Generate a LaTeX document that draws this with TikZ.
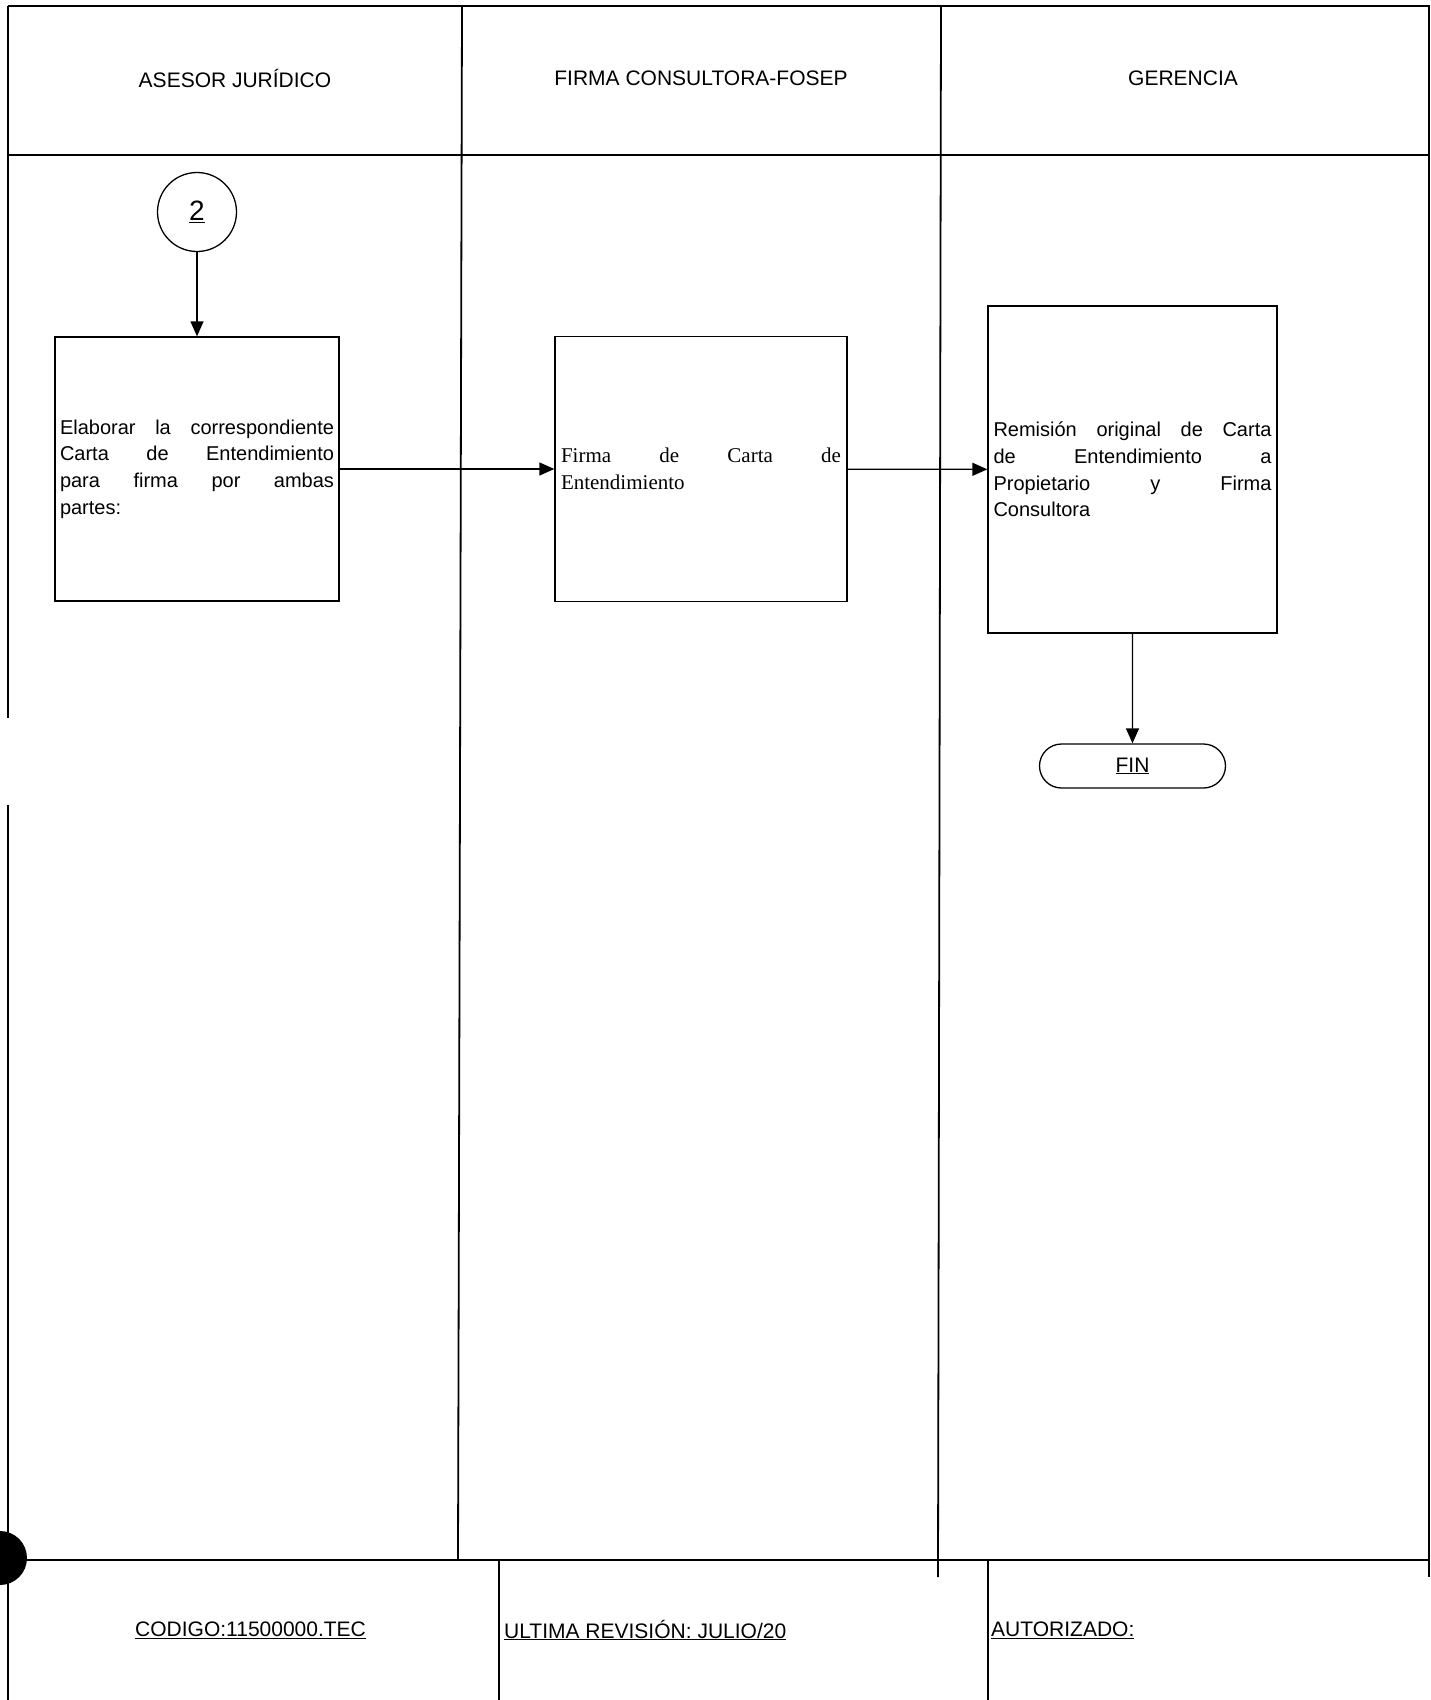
\documentclass[tikz,border=0pt]{standalone}
\usepackage{fontspec}
\setmainfont{Liberation Sans}
\newfontfamily\serifa{Liberation Serif}
\usetikzlibrary{arrows.meta,shapes.misc}
\begin{document}
\begin{tikzpicture}[x=1pt, y=-1pt,
  marco/.style={line width=1.8pt, black},
  caja/.style={rectangle, draw=black, line width=1.3pt, align=justify, font=\fontsize{20}{26.7}\selectfont},
  titulo/.style={font=\fontsize{21}{25}\selectfont},
  pie/.style={font=\fontsize{21}{25}\selectfont, anchor=west, inner sep=0pt},
  flecha/.style={line width=1.3pt, -{Triangle[length=15pt, width=13pt]}}]
  \useasboundingbox (0,0) rectangle (1431,1700);
  % marco y carriles
  \draw[marco] (8,6) -- (1430,6);
  \draw[marco] (8,155) -- (1430,155);
  \draw[marco] (8,1560) -- (1430,1560);
  \draw[marco] (8,6) -- (8,718);
  \draw[marco] (8,805) -- (8,1700);
  \draw[marco] (1429,6) -- (1429,1577);
  \draw[marco] (462,6) -- (458,1560);
  \draw[marco] (941,6) -- (938,1577);
  \draw[marco] (499,1560) -- (499,1700);
  \draw[marco] (988,1560) -- (988,1700);
  % perforacion del papel
  \fill (0,1558) circle (27pt);
  % cabecera
  \node[titulo] (h1) at (235,78) {ASESOR JURÍDICO};
  \node[titulo] (h2) at (701,78) {FIRMA CONSULTORA-FOSEP};
  \node[titulo] (h3) at (1183,78) {GERENCIA};
  % pasos
  \node[circle, draw, line width=1.3pt, minimum size=79pt, inner sep=0pt, font=\fontsize{28}{30}\selectfont] (c2) at (197,212) {\underline{2}};
  \node[caja, minimum width=284pt, minimum height=264pt, text width=274pt, inner sep=5pt] (b1) at (197,469)
    {Elaborar la correspondiente\linebreak Carta de Entendimiento\linebreak para firma por ambas\linebreak partes:};
  \node[caja, minimum width=292pt, minimum height=265pt, text width=280pt, inner sep=6pt, font=\serifa\fontsize{21}{27}\selectfont] (b2) at (701,469)
    {Firma de Carta de\linebreak Entendimiento};
  \node[caja, minimum width=289pt, minimum height=327pt, text width=278pt, inner sep=5.5pt] (b3) at (1132.5,469.5)
    {Remisión original de Carta\linebreak de Entendimiento a\linebreak Propietario y Firma\linebreak Consultora};
  \node[rounded rectangle, draw, line width=1.3pt, minimum width=186pt, minimum height=44pt, inner sep=0pt, titulo] (fin) at (1132.5,766) {\underline{FIN}};
  \draw[flecha] (c2) -- (b1);
  \draw[flecha] (b1) -- (b2);
  \draw[flecha] (b2) -- (b3);
  \draw[flecha] (b3) -- (fin);
  % pie
  \node[pie] (p1) at (135,1630) {\underline{CODIGO:11500000.TEC}};
  \node[pie] (p2) at (504,1630) {\underline{ULTIMA REVISIÓN: JULIO/20}};
  \node[pie] (p3) at (991,1630) {\underline{AUTORIZADO:}};
\end{tikzpicture}
\end{document}
